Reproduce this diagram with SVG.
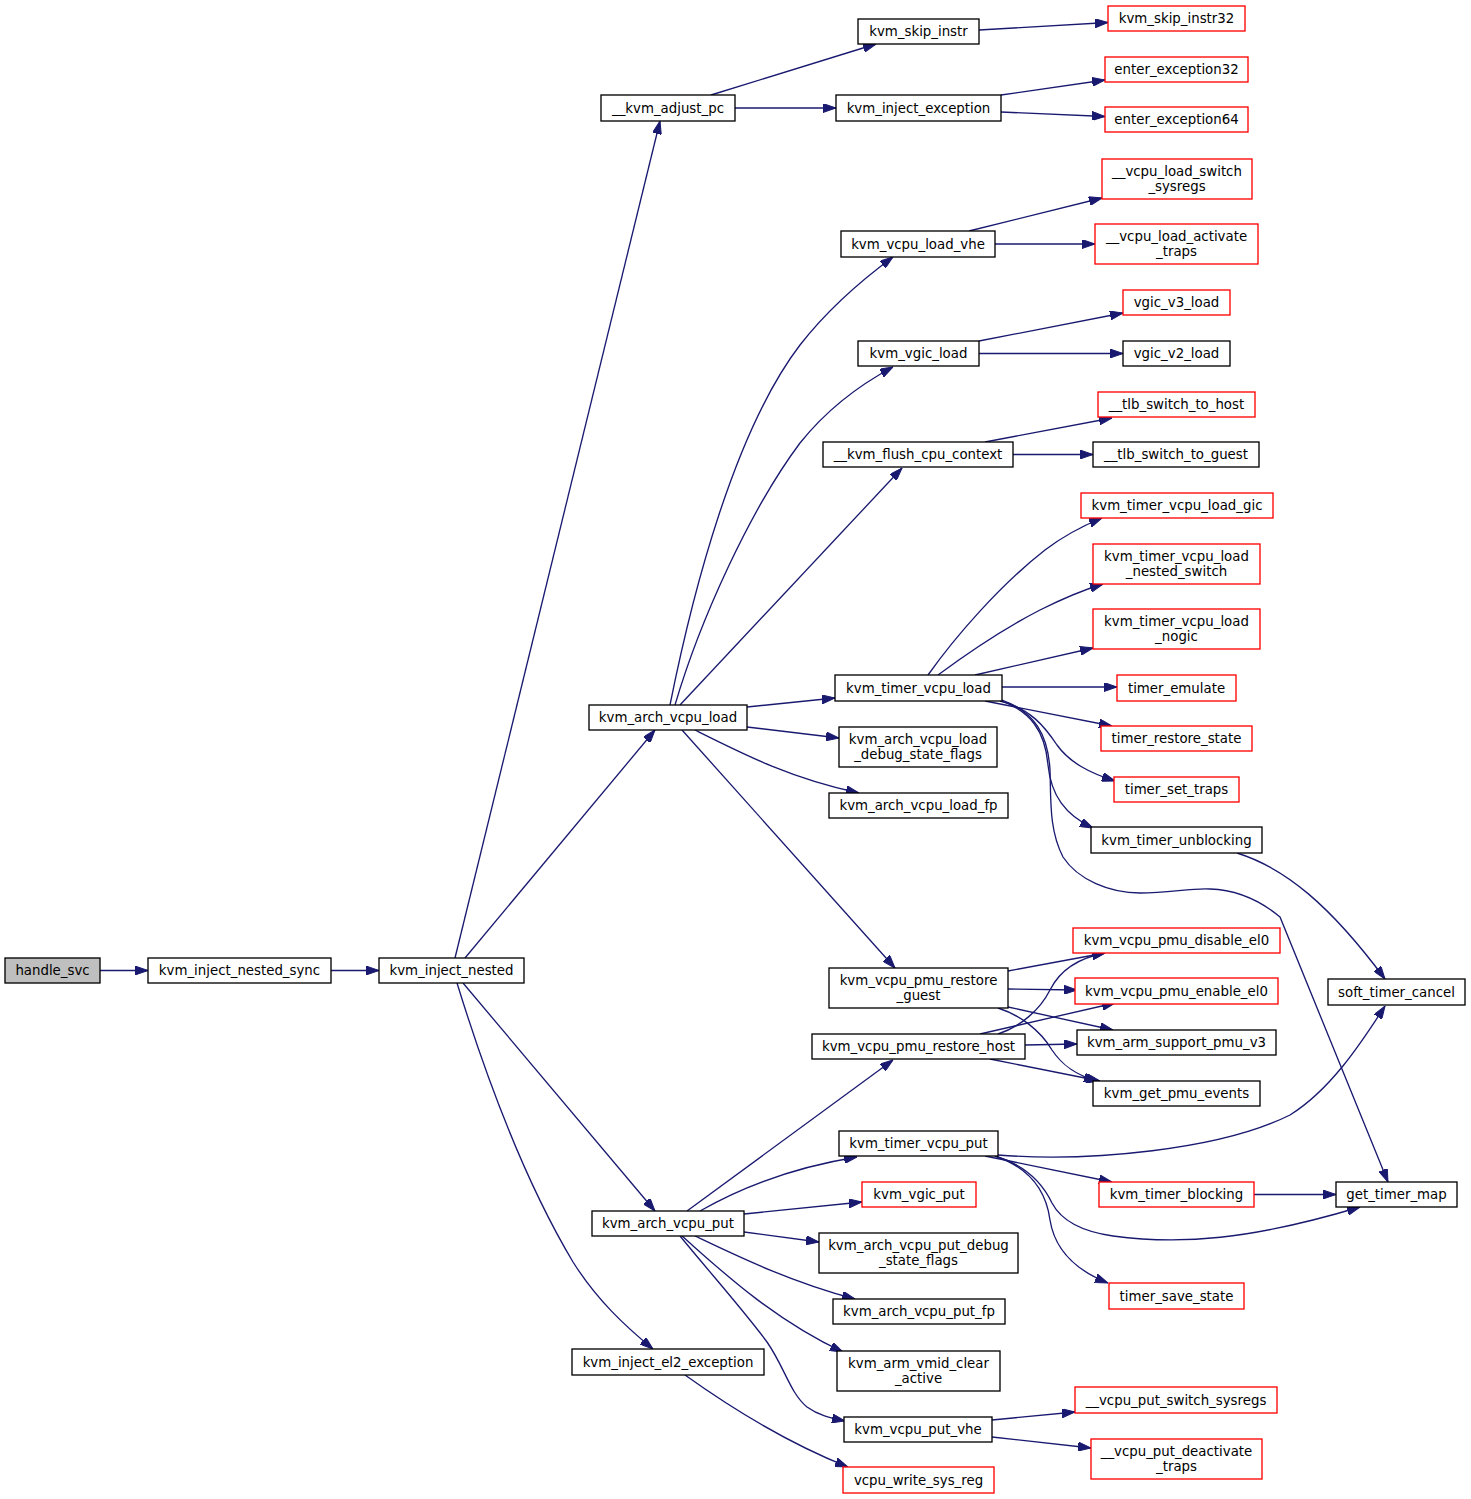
<svg xmlns="http://www.w3.org/2000/svg" width="1471" height="1499" viewBox="0 0 1471 1499">
<style>
.n rect{fill:#fff;stroke:#000;stroke-width:1.33}
.r rect{fill:#fff;stroke:#ff0000;stroke-width:1.33}
.g rect{fill:#bfbfbf;stroke:#000;stroke-width:1.33}
text{font-family:"DejaVu Sans","Liberation Sans",sans-serif;font-size:13.33px;fill:#000;text-anchor:middle}
#edges path{fill:none;stroke:#191970;stroke-width:1.33;marker-end:url(#ah)}
</style>
<defs>
<marker id="ah" markerUnits="userSpaceOnUse" viewBox="0 0 13 9" markerWidth="13" markerHeight="9" refX="13" refY="4.5" orient="auto">
<polygon points="0,0 13,4.5 0,9" fill="#191970" stroke="#191970" stroke-width="1"/>
</marker>
</defs>
<rect width="1471" height="1499" fill="#fff"/>
<g id="edges">
<path d="M100,970.5 L148,970.5"/>
<path d="M331,970.5 L379,970.5"/>
<path d="M455,958 L660,121"/>
<path d="M465,958 L655,730"/>
<path d="M463,983 L655,1211"/>
<path d="M457,983 C490,1090 530,1190 573,1262 C597,1300 625,1326 653,1349"/>
<path d="M711,95 L876,44"/>
<path d="M735,108 L836,108"/>
<path d="M979,30 L1108,22.5"/>
<path d="M1001,95 L1105,80"/>
<path d="M1001,112 L1105,116.5"/>
<path d="M969,231 L1102,198"/>
<path d="M995,244 L1095,244"/>
<path d="M670,705 C693,590 735,430 800,345 C825,313 855,285 893,257"/>
<path d="M675,705 C700,620 750,510 800,443 C820,418 850,390 893,367"/>
<path d="M680,705 L902,468"/>
<path d="M979,341 L1123,313"/>
<path d="M979,353.5 L1123,353.5"/>
<path d="M985,442 L1112,418"/>
<path d="M1013,454.5 L1093,454.5"/>
<path d="M747,707 L835,698"/>
<path d="M747,727 L839,738"/>
<path d="M695,730 C745,755 790,778 859,793"/>
<path d="M682,730 L895,968"/>
<path d="M928,675 C955,637 1000,585 1045,550 C1062,537 1080,527 1102,518"/>
<path d="M938,675 C965,655 1005,628 1040,610 C1060,600 1080,591 1103,584"/>
<path d="M975,675 L1093,648"/>
<path d="M1002,687 L1117,687"/>
<path d="M985,701 L1112,726"/>
<path d="M1000,701 C1030,708 1045,727 1057,745 C1070,763 1090,773 1115,781"/>
<path d="M1002,701 C1030,712 1045,730 1048,765 C1051,795 1065,815 1093,828"/>
<path d="M1002,700 C1035,712 1048,735 1050,770 C1051,800 1049,830 1063,857 C1078,880 1110,893 1140,893 C1170,893 1190,888 1210,889 C1240,890 1262,902 1280,917 L1388,1182"/>
<path d="M1237,853 C1285,868 1330,905 1385,979"/>
<path d="M1008,971 L1105,953"/>
<path d="M1008,989 L1077,990"/>
<path d="M1008,1007 L1113,1030"/>
<path d="M998,1008 C1020,1015 1040,1030 1052,1050 C1062,1065 1075,1075 1097,1081"/>
<path d="M998,1034 C1020,1027 1040,1010 1050,990 C1060,970 1078,958 1105,953"/>
<path d="M980,1034 L1115,1003"/>
<path d="M1025,1045 L1077,1044"/>
<path d="M990,1059 L1100,1081"/>
<path d="M687,1211 L893,1060"/>
<path d="M700,1211 C740,1188 790,1168 857,1157"/>
<path d="M744,1214 L862,1202"/>
<path d="M744,1232 L819,1242"/>
<path d="M695,1236 C735,1255 790,1282 855,1299"/>
<path d="M682,1236 C715,1265 770,1318 843,1352"/>
<path d="M680,1236 C712,1275 745,1312 767,1342 C785,1368 790,1393 807,1407 C818,1415 830,1418 845,1421"/>
<path d="M998,1155 C1090,1162 1220,1150 1290,1115 C1330,1090 1360,1045 1385,1006"/>
<path d="M985,1156 L1112,1182"/>
<path d="M995,1156 C1025,1165 1042,1182 1052,1203 C1062,1222 1085,1232 1113,1236 C1180,1245 1250,1240 1360,1207"/>
<path d="M995,1156 C1030,1168 1046,1190 1050,1220 C1054,1245 1070,1268 1108,1283"/>
<path d="M1254,1194.5 L1336,1194.5"/>
<path d="M685,1375 C720,1400 780,1440 848,1467"/>
<path d="M992,1420 L1075,1412"/>
<path d="M992,1437 L1091,1448"/>
</g>
<g id="handle_svc" class="g"><rect x="5" y="958" width="95" height="25"/><text x="52.5" y="975">handle_svc</text></g>
<g id="kvm_inject_nested_sync" class="n"><rect x="148" y="958" width="183" height="25"/><text x="239.5" y="975">kvm_inject_nested_sync</text></g>
<g id="kvm_inject_nested" class="n"><rect x="379" y="958" width="145" height="25"/><text x="451.5" y="975">kvm_inject_nested</text></g>
<g id="__kvm_adjust_pc" class="n"><rect x="601" y="95" width="134" height="26"/><text x="668" y="112.5">__kvm_adjust_pc</text></g>
<g id="kvm_arch_vcpu_load" class="n"><rect x="589" y="705" width="158" height="25"/><text x="668" y="722">kvm_arch_vcpu_load</text></g>
<g id="kvm_arch_vcpu_put" class="n"><rect x="592" y="1211" width="152" height="25"/><text x="668" y="1228">kvm_arch_vcpu_put</text></g>
<g id="kvm_inject_el2_exception" class="n"><rect x="572" y="1349" width="192" height="26"/><text x="668" y="1366.5">kvm_inject_el2_exception</text></g>
<g id="kvm_skip_instr" class="n"><rect x="858" y="19" width="121" height="25"/><text x="918.5" y="36">kvm_skip_instr</text></g>
<g id="kvm_inject_exception" class="n"><rect x="836" y="95" width="165" height="26"/><text x="918.5" y="112.5">kvm_inject_exception</text></g>
<g id="kvm_vcpu_load_vhe" class="n"><rect x="841" y="231" width="154" height="26"/><text x="918" y="248.5">kvm_vcpu_load_vhe</text></g>
<g id="kvm_vgic_load" class="n"><rect x="858" y="341" width="121" height="25"/><text x="918.5" y="358">kvm_vgic_load</text></g>
<g id="__kvm_flush_cpu_context" class="n"><rect x="823" y="442" width="190" height="25"/><text x="918" y="459">__kvm_flush_cpu_context</text></g>
<g id="kvm_timer_vcpu_load" class="n"><rect x="835" y="675" width="167" height="26"/><text x="918.5" y="692.5">kvm_timer_vcpu_load</text></g>
<g id="kvm_arch_vcpu_load_debug_state_flags" class="n"><rect x="839" y="727" width="158" height="40"/><text x="918" y="744">kvm_arch_vcpu_load</text><text x="918" y="758.8">_debug_state_flags</text></g>
<g id="kvm_arch_vcpu_load_fp" class="n"><rect x="829" y="793" width="179" height="25"/><text x="918.5" y="810">kvm_arch_vcpu_load_fp</text></g>
<g id="kvm_vcpu_pmu_restore_guest" class="n"><rect x="829" y="968" width="179" height="40"/><text x="918.5" y="985">kvm_vcpu_pmu_restore</text><text x="918.5" y="999.8">_guest</text></g>
<g id="kvm_vcpu_pmu_restore_host" class="n"><rect x="812" y="1034" width="213" height="25"/><text x="918.5" y="1051">kvm_vcpu_pmu_restore_host</text></g>
<g id="kvm_timer_vcpu_put" class="n"><rect x="839" y="1131" width="159" height="25"/><text x="918.5" y="1148">kvm_timer_vcpu_put</text></g>
<g id="kvm_vgic_put" class="r"><rect x="862" y="1182" width="114" height="25"/><text x="919" y="1199">kvm_vgic_put</text></g>
<g id="kvm_arch_vcpu_put_debug_state_flags" class="n"><rect x="819" y="1233" width="199" height="40"/><text x="918.5" y="1250">kvm_arch_vcpu_put_debug</text><text x="918.5" y="1264.8">_state_flags</text></g>
<g id="kvm_arch_vcpu_put_fp" class="n"><rect x="833" y="1299" width="172" height="25"/><text x="919" y="1316">kvm_arch_vcpu_put_fp</text></g>
<g id="kvm_arm_vmid_clear_active" class="n"><rect x="837" y="1351" width="163" height="40"/><text x="918.5" y="1368">kvm_arm_vmid_clear</text><text x="918.5" y="1382.8">_active</text></g>
<g id="kvm_vcpu_put_vhe" class="n"><rect x="844" y="1417" width="148" height="25"/><text x="918" y="1434">kvm_vcpu_put_vhe</text></g>
<g id="vcpu_write_sys_reg" class="r"><rect x="843" y="1467" width="151" height="26"/><text x="918.5" y="1484.5">vcpu_write_sys_reg</text></g>
<g id="kvm_skip_instr32" class="r"><rect x="1108" y="6" width="137" height="25"/><text x="1176.5" y="23">kvm_skip_instr32</text></g>
<g id="enter_exception32" class="r"><rect x="1105" y="57" width="143" height="25"/><text x="1176.5" y="74">enter_exception32</text></g>
<g id="enter_exception64" class="r"><rect x="1105" y="107" width="143" height="25"/><text x="1176.5" y="124">enter_exception64</text></g>
<g id="__vcpu_load_switch_sysregs" class="r"><rect x="1102" y="159" width="150" height="40"/><text x="1177" y="176">__vcpu_load_switch</text><text x="1177" y="190.8">_sysregs</text></g>
<g id="__vcpu_load_activate_traps" class="r"><rect x="1095" y="224" width="163" height="40"/><text x="1176.5" y="241">__vcpu_load_activate</text><text x="1176.5" y="255.8">_traps</text></g>
<g id="vgic_v3_load" class="r"><rect x="1123" y="290" width="107" height="25"/><text x="1176.5" y="307">vgic_v3_load</text></g>
<g id="vgic_v2_load" class="n"><rect x="1123" y="341" width="107" height="25"/><text x="1176.5" y="358">vgic_v2_load</text></g>
<g id="__tlb_switch_to_host" class="r"><rect x="1098" y="392" width="157" height="25"/><text x="1176.5" y="409">__tlb_switch_to_host</text></g>
<g id="__tlb_switch_to_guest" class="n"><rect x="1093" y="442" width="166" height="25"/><text x="1176" y="459">__tlb_switch_to_guest</text></g>
<g id="kvm_timer_vcpu_load_gic" class="r"><rect x="1081" y="493" width="192" height="25"/><text x="1177" y="510">kvm_timer_vcpu_load_gic</text></g>
<g id="kvm_timer_vcpu_load_nested_switch" class="r"><rect x="1093" y="544" width="167" height="40"/><text x="1176.5" y="561">kvm_timer_vcpu_load</text><text x="1176.5" y="575.8">_nested_switch</text></g>
<g id="kvm_timer_vcpu_load_nogic" class="r"><rect x="1093" y="609" width="167" height="40"/><text x="1176.5" y="626">kvm_timer_vcpu_load</text><text x="1176.5" y="640.8">_nogic</text></g>
<g id="timer_emulate" class="r"><rect x="1117" y="675" width="119" height="26"/><text x="1176.5" y="692.5">timer_emulate</text></g>
<g id="timer_restore_state" class="r"><rect x="1101" y="726" width="151" height="25"/><text x="1176.5" y="743">timer_restore_state</text></g>
<g id="timer_set_traps" class="r"><rect x="1114" y="777" width="125" height="25"/><text x="1176.5" y="794">timer_set_traps</text></g>
<g id="kvm_timer_unblocking" class="n"><rect x="1091" y="827" width="171" height="26"/><text x="1176.5" y="844.5">kvm_timer_unblocking</text></g>
<g id="kvm_vcpu_pmu_disable_el0" class="r"><rect x="1073" y="928" width="207" height="25"/><text x="1176.5" y="945">kvm_vcpu_pmu_disable_el0</text></g>
<g id="kvm_vcpu_pmu_enable_el0" class="r"><rect x="1075" y="978" width="203" height="26"/><text x="1176.5" y="995.5">kvm_vcpu_pmu_enable_el0</text></g>
<g id="kvm_arm_support_pmu_v3" class="n"><rect x="1077" y="1030" width="199" height="25"/><text x="1176.5" y="1047">kvm_arm_support_pmu_v3</text></g>
<g id="kvm_get_pmu_events" class="n"><rect x="1093" y="1081" width="167" height="25"/><text x="1176.5" y="1098">kvm_get_pmu_events</text></g>
<g id="kvm_timer_blocking" class="r"><rect x="1099" y="1182" width="155" height="25"/><text x="1176.5" y="1199">kvm_timer_blocking</text></g>
<g id="timer_save_state" class="r"><rect x="1109" y="1283" width="135" height="26"/><text x="1176.5" y="1300.5">timer_save_state</text></g>
<g id="__vcpu_put_switch_sysregs" class="r"><rect x="1075" y="1387" width="202" height="26"/><text x="1176" y="1404.5">__vcpu_put_switch_sysregs</text></g>
<g id="__vcpu_put_deactivate_traps" class="r"><rect x="1091" y="1439" width="171" height="40"/><text x="1176.5" y="1456">__vcpu_put_deactivate</text><text x="1176.5" y="1470.8">_traps</text></g>
<g id="soft_timer_cancel" class="n"><rect x="1328" y="979" width="137" height="26"/><text x="1396.5" y="996.5">soft_timer_cancel</text></g>
<g id="get_timer_map" class="n"><rect x="1336" y="1182" width="121" height="25"/><text x="1396.5" y="1199">get_timer_map</text></g>
</svg>
